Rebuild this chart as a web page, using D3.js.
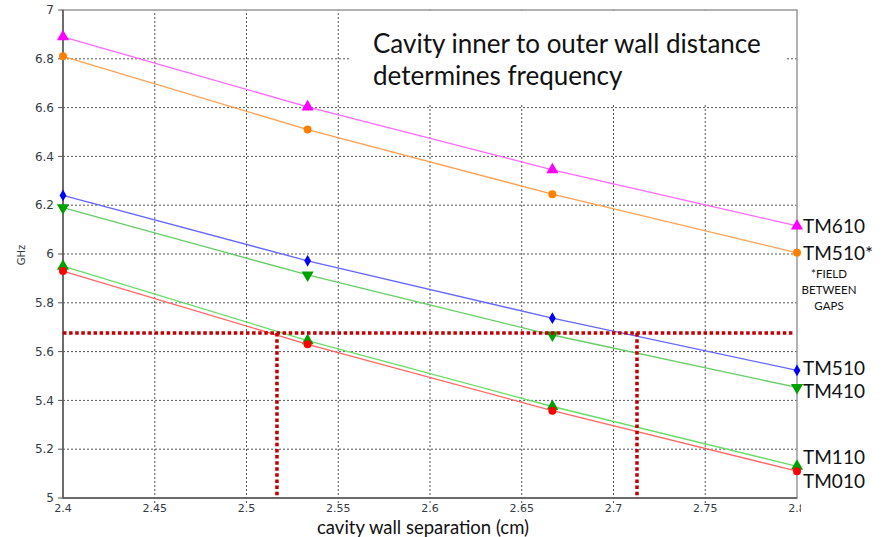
<!DOCTYPE html>
<html lang="en">
<head>
  <meta charset="UTF-8">
  <title>Cavity wall separation vs frequency</title>
  <style>
    * { margin: 0; box-sizing: border-box; }
    body { width: 885px; height: 537px; background: #fff; overflow: hidden; }
    svg { display: block; }
    .grid line { stroke: #555; stroke-width: 1; stroke-dasharray: 2,2; }
    .tick-label { font: 11px "DejaVu Sans", sans-serif; fill: #333a44; }
    .series-label { font: 19px Lato, sans-serif; fill: #111; }
    .note { font: 11.5px Lato, sans-serif; fill: #111; }
  </style>
</head>
<body>
  <svg></svg>
  <script src="https://d3js.org/d3.v7.min.js"></script>
  <script>
    // separation in cm
    const separation = [2.4, 2.5333, 2.6667, 2.8];

    const tm610  = [6.89, 6.603, 6.345, 6.115];
    const tm510s = [6.81, 6.51, 6.245, 6.005];
    const tm510  = [6.24, 5.972, 5.737, 5.523];
    const tm410  = [6.19, 5.914, 5.668, 5.453];
    const tm110  = [5.95, 5.645, 5.375, 5.13];
    const tm010  = [5.93, 5.63, 5.358, 5.11];

    const xTicks = [2.4, 2.45, 2.5, 2.55, 2.6, 2.65, 2.7, 2.75, 2.8];
    const yTicks = [5, 5.2, 5.4, 5.6, 5.8, 6, 6.2, 6.4, 6.6, 6.8, 7];

    // target frequency and the two matching separations
    const targetGHz = 5.676;
    const targetSep = [2.5166, 2.7128];

    const series = [
      { name: 'TM610',  values: tm610,  color: '#ff00ff', line: '#ff66ff', symbol: d3.symbolTriangle, size: 64, labelDy: 7 },
      { name: 'TM510*', values: tm510s, color: '#ff8000', line: '#ffa050', symbol: d3.symbolCircle,   size: 50, labelDy: 7 },
      { name: 'TM510',  values: tm510,  color: '#0000ff', line: '#6666ff', symbol: d3.symbolDiamond,  size: 40, labelDy: 5 },
      { name: 'TM410',  values: tm410,  color: '#00a000', line: '#66cc66', symbol: d3.symbolTriangle, size: 64, rotate: 180, labelDy: 11 },
      { name: 'TM110',  values: tm110,  color: '#00a000', line: '#66dd66', symbol: d3.symbolTriangle, size: 64, labelDy: -2 },
      { name: 'TM010',  values: tm010,  color: '#ff0000', line: '#ff6666', symbol: d3.symbolCircle,   size: 50, labelDy: 17 }
    ];

    const width = 885, height = 537;
    const margin = { top: 10, right: 88, bottom: 39, left: 63 };

    const svg = d3.select('svg').attr('width', width).attr('height', height);

    const x = d3.scaleLinear().domain([2.4, 2.8]).range([margin.left, width - margin.right]);
    const y = d3.scaleLinear().domain([5, 7]).range([height - margin.bottom, margin.top]);

    // grid
    const grid = svg.append('g').attr('class', 'grid');
    grid.selectAll('.h').data(yTicks.slice(1, -1)).join('line')
      .attr('x1', x(2.4)).attr('x2', x(2.8))
      .attr('y1', d => y(d)).attr('y2', d => y(d));
    grid.selectAll('.v').data(xTicks.slice(1, -1)).join('line')
      .attr('y1', y(5) + 5).attr('y2', y(7))
      .attr('x1', d => x(d)).attr('x2', d => x(d));

    // white box behind the heading
    svg.append('rect')
      .attr('x', 350).attr('y', 13).attr('width', 436).attr('height', 90)
      .attr('fill', '#fff');

    // frame
    svg.append('rect')
      .attr('x', x(2.4)).attr('y', y(7))
      .attr('width', x(2.8) - x(2.4)).attr('height', y(5) - y(7))
      .attr('fill', 'none').attr('stroke', '#999').attr('stroke-width', 1.5);
    svg.append('line')
      .attr('x1', x(2.4)).attr('x2', x(2.4)).attr('y1', y(7)).attr('y2', y(5))
      .attr('stroke', '#555').attr('stroke-width', 1.5);
    svg.append('line')
      .attr('x1', x(2.4)).attr('x2', x(2.8)).attr('y1', y(5)).attr('y2', y(5))
      .attr('stroke', '#555').attr('stroke-width', 1.5);

    // y axis ticks and labels
    const yAxis = svg.append('g');
    yAxis.selectAll('line').data(yTicks).join('line')
      .attr('x1', x(2.4) - 5).attr('x2', x(2.4))
      .attr('y1', d => y(d)).attr('y2', d => y(d))
      .attr('stroke', '#555');
    yAxis.selectAll('text').data(yTicks).join('text')
      .attr('class', 'tick-label')
      .attr('x', x(2.4) - 9).attr('y', d => y(d)).attr('dy', '0.35em')
      .attr('text-anchor', 'end')
      .style('font-size', '12px')
      .text(d => d3.format('~g')(d));

    // x axis labels (the last one is cut at the plot edge, as in the source)
    const clip = svg.append('clipPath').attr('id', 'xclip');
    clip.append('rect').attr('x', 0).attr('y', 0).attr('width', x(2.8) + 4).attr('height', height);
    svg.append('g').attr('clip-path', 'url(#xclip)')
      .selectAll('text').data(xTicks).join('text')
      .attr('class', 'tick-label')
      .attr('x', d => x(d)).attr('y', y(5) + 14)
      .attr('text-anchor', 'middle')
      .text(d => d3.format('~g')(d));

    svg.append('text')
      .attr('x', 25).attr('y', y(6) + 1)
      .attr('transform', `rotate(-90, 25, ${y(6) + 1})`)
      .attr('text-anchor', 'middle')
      .style('font', '10px "DejaVu Sans", sans-serif').style('fill', '#333a44')
      .text('GHz');

    svg.append('text')
      .attr('x', 423).attr('y', 533.5)
      .attr('text-anchor', 'middle')
      .style('font', '18.5px Lato, sans-serif').style('fill', '#111')
      .text('cavity wall separation (cm)');

    // series lines and markers
    const line = d3.line().x((d, i) => x(separation[i])).y(d => y(d));
    series.forEach(s => {
      svg.append('path')
        .attr('d', line(s.values))
        .attr('fill', 'none').attr('stroke', s.line).attr('stroke-width', 1.3);
      svg.append('g').selectAll('path').data(s.values).join('path')
        .attr('d', d3.symbol(s.symbol, s.size))
        .attr('transform', (d, i) => `translate(${x(separation[i])},${y(d)}) rotate(${s.rotate || 0})`)
        .attr('fill', s.color);
      svg.append('text')
        .attr('class', 'series-label')
        .attr('x', x(2.8) + 6)
        .attr('y', y(s.values[3]) + s.labelDy)
        .text(s.name);
    });

    const note = svg.append('text').attr('class', 'note').attr('text-anchor', 'middle');
    ['*FIELD', 'BETWEEN', 'GAPS'].forEach((t, i) => {
      note.append('tspan').attr('x', 829).attr('y', 278 + i * 16).text(t);
    });

    // target frequency guides
    const guide = svg.append('g')
      .attr('stroke', '#c00000').attr('stroke-width', 3.5).attr('stroke-dasharray', '3.5,2.6');
    guide.append('line')
      .attr('x1', x(2.4)).attr('x2', x(2.8) - 3)
      .attr('y1', y(targetGHz)).attr('y2', y(targetGHz));
    guide.selectAll('.vg').data(targetSep).join('line')
      .attr('x1', d => x(d)).attr('x2', d => x(d))
      .attr('y1', y(targetGHz)).attr('y2', y(5));

    // heading
    const head = svg.append('text')
      .style('font', '26px Lato, sans-serif').style('fill', '#111');
    head.append('tspan').attr('x', 373).attr('y', 53).text('Cavity inner to outer wall distance');
    head.append('tspan').attr('x', 373).attr('y', 85).text('determines frequency');
  </script>
</body>
</html>
